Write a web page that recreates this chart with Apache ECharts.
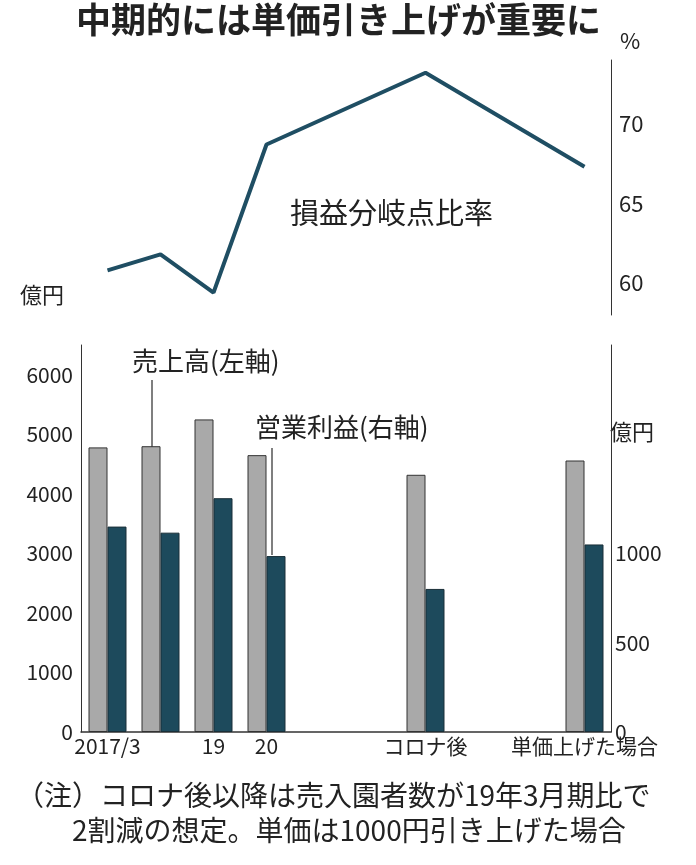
<!DOCTYPE html>
<html><head><meta charset="utf-8">
<script src="https://cdn.jsdelivr.net/npm/echarts@6/dist/echarts.min.js"></script>
<style>html,body{margin:0;background:#fff}#c{width:696px;height:865px}</style>
</head><body><div id="c"></div>
<script>
var categories = ['2017/3', '18', '19', '20', '', '', 'コロナ後', '', '', '単価上げた場合'];
var shownLabels = ['2017/3', '', '19', '20', '', '', 'コロナ後', '', '', '単価上げた場合'];
var breakEven = [60.8, 61.8, 59.4, 68.7, null, null, 73.2, null, null, 67.3];
var sales = [4780, 4800, 5250, 4650, null, null, 4320, null, null, 4560];
var profit = [1150, 1116, 1309, 985, null, null, 801, null, null, 1050];

var font = '"Noto Sans CJK JP", sans-serif';
var chart = echarts.init(document.getElementById('c'));
var txt = function (x, y, s, size, weight) {
    return { type: 'text', left: x, top: y, style: { text: s, font: (weight || '') + ' ' + size + 'px ' + font, fill: '#222' } };
};
chart.setOption({
    animation: false,
    textStyle: { fontFamily: font },
    grid: [
        { left: 81, right: 85, top: 60, height: 255 },
        { left: 81, right: 85, top: 345, height: 387 }
    ],
    xAxis: [
        { gridIndex: 0, type: 'category', data: categories, show: false },
        { gridIndex: 1, type: 'category', data: categories,
          axisLine: { lineStyle: { color: '#333', width: 1.5 } }, axisTick: { show: false },
          axisLabel: { interval: 0, color: '#222', fontSize: 21, margin: 4,
              formatter: function (v, i) { return shownLabels[i]; } } }
    ],
    yAxis: [
        { gridIndex: 0, type: 'value', position: 'right', min: 58, max: 74, interval: 1,
          splitLine: { show: false }, axisTick: { show: false },
          axisLine: { show: true, lineStyle: { color: '#333' } },
          axisLabel: { color: '#222', fontSize: 22, margin: 8,
              formatter: function (v) { return v % 5 === 0 ? v : ''; } } },
        { gridIndex: 1, type: 'value', min: 0, max: 6500, interval: 1000,
          splitLine: { show: false }, axisTick: { show: false },
          axisLine: { show: true, lineStyle: { color: '#333' } },
          axisLabel: { color: '#222', fontSize: 21, margin: 8,
              formatter: function (v) { return v <= 6000 ? v : ''; } } },
        { gridIndex: 1, type: 'value', position: 'right', min: 0, max: 6500 / 3, interval: 500,
          splitLine: { show: false }, axisTick: { show: false },
          axisLine: { show: true, lineStyle: { color: '#333' } },
          axisLabel: { color: '#222', fontSize: 21, margin: 4,
              formatter: function (v) { return v <= 1000 ? v : ''; } } }
    ],
    series: [
        { type: 'line', xAxisIndex: 0, yAxisIndex: 0, data: breakEven, connectNulls: true,
          symbol: 'none', lineStyle: { color: '#1f4e63', width: 4 } },
        { type: 'bar', xAxisIndex: 1, yAxisIndex: 1, data: sales, barWidth: 19, barGap: '0%',
          itemStyle: { color: '#a9a9a9', borderColor: '#333', borderWidth: 1 } },
        { type: 'bar', xAxisIndex: 1, yAxisIndex: 2, data: profit, barWidth: 19,
          itemStyle: { color: '#1d4a5c', borderColor: '#1a2f38', borderWidth: 1 } }
    ],
    graphic: [
        txt(76, 2, '中期的には単価引き上げが重要に', 35, 'bold'),
        txt(620, 30, '%', 22),
        txt(290, 198, '損益分岐点比率', 29),
        txt(20, 284, '億円', 22),
        txt(132, 348, '売上高(左軸)', 26),
        txt(255, 414, '営業利益(右軸)', 26),
        txt(610, 421, '億円', 22),
        { type: 'line', shape: { x1: 152, y1: 380, x2: 152, y2: 452 }, style: { stroke: '#555', lineWidth: 1.5 } },
        { type: 'line', shape: { x1: 272, y1: 448, x2: 272, y2: 555 }, style: { stroke: '#555', lineWidth: 1.5 } },
        txt(16, 781, '（注）コロナ後以降は売入園者数が19年3月期比で', 28),
        txt(72, 816, '2割減の想定。単価は1000円引き上げた場合', 28)
    ]
});
</script></body></html>
